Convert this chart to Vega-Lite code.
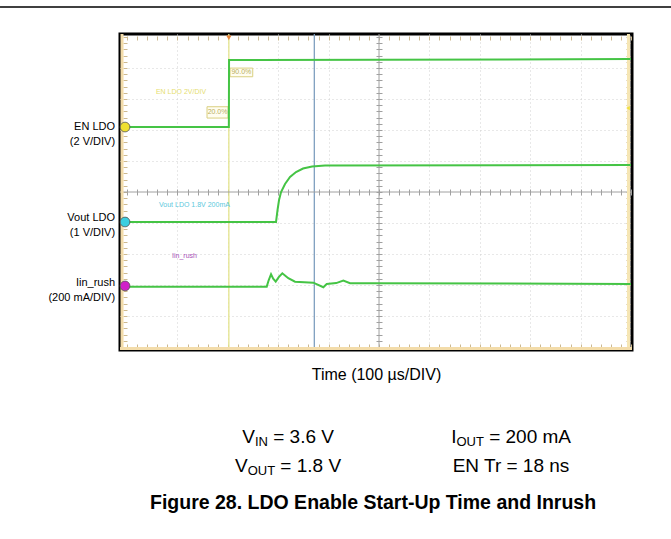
{
"$schema":"https://vega.github.io/schema/vega-lite/v6.json",
"width":512,"height":316,
"autosize":{"type":"none"},
"padding":{"left":120,"top":34,"right":39,"bottom":189},
"background":"white",
"config":{"font":"Liberation Sans","view":{"stroke":"black","strokeWidth":3}},
"datasets":{
"traces":[
{"series":"EN","i":0,"t":-10,"d":7.097},{"series":"EN","i":1,"t":202,"d":7.097},{"series":"EN","i":2,"t":202.4,"d":9.258},{"series":"EN","i":3,"t":500,"d":9.27},{"series":"EN","i":4,"t":1000,"d":9.29},
{"series":"Vout","i":0,"t":-10,"d":4.032},{"series":"Vout","i":1,"t":295.6,"d":4.032},{"series":"Vout","i":2,"t":298.6,"d":4.419},{"series":"Vout","i":3,"t":301.6,"d":4.742},{"series":"Vout","i":4,"t":305.6,"d":5.0},{"series":"Vout","i":5,"t":313.5,"d":5.258},{"series":"Vout","i":6,"t":323.4,"d":5.484},{"series":"Vout","i":7,"t":335.3,"d":5.645},{"series":"Vout","i":8,"t":349.2,"d":5.758},{"series":"Vout","i":9,"t":367.1,"d":5.823},{"series":"Vout","i":10,"t":392.9,"d":5.855},{"series":"Vout","i":11,"t":1000,"d":5.871},
{"series":"Iin","i":0,"t":-10,"d":1.945},{"series":"Iin","i":1,"t":277.2,"d":1.945},{"series":"Iin","i":2,"t":281,"d":2.15},{"series":"Iin","i":3,"t":285.7,"d":2.345},{"series":"Iin","i":4,"t":290,"d":2.2},{"series":"Iin","i":5,"t":295,"d":2.106},{"series":"Iin","i":6,"t":301,"d":2.25},{"series":"Iin","i":7,"t":308.1,"d":2.377},{"series":"Iin","i":8,"t":314,"d":2.3},{"series":"Iin","i":9,"t":320,"d":2.216},{"series":"Iin","i":10,"t":333.3,"d":2.106},{"series":"Iin","i":11,"t":369.6,"d":2.074},{"series":"Iin","i":12,"t":389.5,"d":1.926},{"series":"Iin","i":13,"t":396.2,"d":2.032},{"series":"Iin","i":14,"t":415,"d":2.06},{"series":"Iin","i":15,"t":429.2,"d":2.139},{"series":"Iin","i":16,"t":442.5,"d":2.055},{"series":"Iin","i":17,"t":482.1,"d":2.055},{"series":"Iin","i":18,"t":1000,"d":2.032}
],
"cursors":[{"cursor":"trigger","t":202},{"cursor":"measure","t":371.6}],
"channels":[{"channel":"EN LDO","t":-4,"d":7.097},{"channel":"Vout LDO","t":-4,"d":4.032},{"channel":"Iin_rush","t":-4,"d":1.968}],
"one":[{}]
},
"resolve":{"scale":{"x":"shared","y":"shared","color":"independent"},"axis":{"x":"independent","y":"independent"}},
"layer":[
{"data":{"name":"one"},"mark":{"type":"rule","color":"black","strokeWidth":1.5},"encoding":{"x":{"datum":-252.1,"type":"quantitative","axis":null},"x2":{"datum":1079.4},"y":{"datum":10.972,"type":"quantitative","axis":null}}},
{"data":{"name":"cursors"},"mark":{"type":"rule","strokeWidth":1.3},
 "encoding":{"x":{"field":"t","type":"quantitative","scale":{"domain":[-14,1002],"nice":false,"zero":false},"axis":null},
 "color":{"field":"cursor","type":"nominal","scale":{"domain":["trigger","measure"],"range":["#e4e48c","#7f9fbf"]},"legend":null}}},
{"data":{"name":"one"},"mark":{"type":"rule","color":"#a0a0a0","strokeWidth":1},"encoding":{"x":{"datum":500,"type":"quantitative","axis":null}}},
{"data":{"name":"one"},"mark":{"type":"rule","color":"#a0a0a0","strokeWidth":1},"encoding":{"y":{"datum":5,"type":"quantitative","scale":{"domain":[-0.1,10.1],"nice":false,"zero":false},"axis":null}}},
{"data":{"name":"one"},"mark":{"type":"rule","color":"#f3dcaa","strokeWidth":3},"encoding":{"x":{"datum":-10,"type":"quantitative","axis":null}}},
{"data":{"name":"one"},"mark":{"type":"rule","color":"#f6e6b4","strokeWidth":3},"encoding":{"x":{"datum":995,"type":"quantitative","axis":null}}},
{"data":{"name":"one"},"mark":{"type":"rule","color":"#f3dcaa","strokeWidth":3},"encoding":{"y":{"datum":-0.05,"type":"quantitative","axis":null}}},
{"data":{"name":"one"},"mark":{"type":"rect","fill":"#fffdf0","stroke":"#d9cf80","strokeWidth":1},"encoding":{"x":{"datum":204.4,"type":"quantitative","axis":null},"x2":{"datum":249.4},"y":{"datum":9.0,"type":"quantitative","axis":null},"y2":{"datum":8.72}}},
{"data":{"name":"one"},"mark":{"type":"rect","fill":"#fffdf0","stroke":"#d9cf80","strokeWidth":1},"encoding":{"x":{"datum":158.7,"type":"quantitative","axis":null},"x2":{"datum":200.4},"y":{"datum":7.752,"type":"quantitative","axis":null},"y2":{"datum":7.387}}},
{"data":{"name":"one"},"mark":{"type":"text","text":"90.0%","fontSize":7,"color":"#b8ae60","align":"center","baseline":"middle"},"encoding":{"x":{"datum":226.9,"type":"quantitative","axis":null},"y":{"datum":8.86,"type":"quantitative","axis":null}}},
{"data":{"name":"one"},"mark":{"type":"text","text":"20.0%","fontSize":7,"color":"#b8ae60","align":"center","baseline":"middle"},"encoding":{"x":{"datum":179.6,"type":"quantitative","axis":null},"y":{"datum":7.57,"type":"quantitative","axis":null}}},
{"data":{"name":"one"},"mark":{"type":"text","text":"EN LDO 2V/DIV","fontSize":7,"color":"#e6de70","align":"center","baseline":"middle"},"encoding":{"x":{"datum":107.1,"type":"quantitative","axis":null},"y":{"datum":8.226,"type":"quantitative","axis":null}}},
{"data":{"name":"one"},"mark":{"type":"text","text":"Vout LDO 1.8V 200mA","fontSize":7,"color":"#5cc8dc","align":"left","baseline":"middle"},"encoding":{"x":{"datum":63.5,"type":"quantitative","axis":null},"y":{"datum":4.581,"type":"quantitative","axis":null}}},
{"data":{"name":"one"},"mark":{"type":"text","text":"Iin_rush","fontSize":7,"color":"#a850b8","align":"left","baseline":"middle"},"encoding":{"x":{"datum":89.3,"type":"quantitative","axis":null},"y":{"datum":2.935,"type":"quantitative","axis":null}}},
{"data":{"name":"traces"},"transform":[{"filter":"datum.series === 'EN'"}],"mark":{"type":"line","color":"#45c445","strokeWidth":2,"clip":true},
 "encoding":{"x":{"field":"t","type":"quantitative","scale":{"domain":[-14,1002],"nice":false,"zero":false},
   "axis":{"orient":"bottom","values":[100,200,300,400,600,700,800,900],"grid":true,"gridColor":"#d0d0d0","gridDash":[1,3],"ticks":false,"labels":false,"domain":false,"title":"Time (100 µs/DIV)","titleFont":"Liberation Sans","titleFontSize":16,"titleFontWeight":"normal","titleColor":"black","titlePadding":16}},
  "y":{"field":"d","type":"quantitative","scale":{"domain":[-0.1,10.1],"nice":false,"zero":false},
   "axis":{"orient":"left","values":[1,2,3,4,6,7,8,9],"grid":true,"gridColor":"#d0d0d0","gridDash":[1,3],"ticks":false,"labels":false,"domain":false,"title":null}},
  "order":{"field":"i","type":"quantitative"}}},
{"data":{"name":"traces"},"transform":[{"filter":"datum.series === 'Vout'"}],"mark":{"type":"line","color":"#45c445","strokeWidth":2,"clip":true},
 "encoding":{"x":{"field":"t","type":"quantitative","scale":{"domain":[-14,1002],"nice":false,"zero":false},
   "axis":{"orient":"top","offset":-6,"values":[0,20,40,60,80,100,120,140,160,180,200,220,240,260,280,300,320,340,360,380,400,420,440,460,480,500,520,540,560,580,600,620,640,660,680,700,720,740,760,780,800,820,840,860,880,900,920,940,960,980,1000],"grid":false,"ticks":true,"tickSize":4,"tickColor":"#cdb98f","labels":false,"domain":false,"title":null}},
  "y":{"field":"d","type":"quantitative","scale":{"domain":[-0.1,10.1],"nice":false,"zero":false},
   "axis":{"orient":"right","offset":-6,"values":[0,0.2,0.4,0.6,0.8,1,1.2,1.4,1.6,1.8,2,2.2,2.4,2.6,2.8,3,3.2,3.4,3.6,3.8,4,4.2,4.4,4.6,4.8,5,5.2,5.4,5.6,5.8,6,6.2,6.4,6.6,6.8,7,7.2,7.4,7.6,7.8,8,8.2,8.4,8.6,8.8,9,9.2,9.4,9.6,9.8,10],"grid":false,"ticks":true,"tickSize":4,"tickColor":"#cdb98f","labels":false,"domain":false,"title":null}},
  "order":{"field":"i","type":"quantitative"}}},
{"data":{"name":"traces"},"transform":[{"filter":"datum.series === 'Iin'"}],"mark":{"type":"line","color":"#45c445","strokeWidth":2,"clip":true},
 "encoding":{"x":{"field":"t","type":"quantitative","scale":{"domain":[-14,1002],"nice":false,"zero":false},
   "axis":{"orient":"bottom","offset":-6,"values":[0,20,40,60,80,100,120,140,160,180,200,220,240,260,280,300,320,340,360,380,400,420,440,460,480,500,520,540,560,580,600,620,640,660,680,700,720,740,760,780,800,820,840,860,880,900,920,940,960,980,1000],"grid":false,"ticks":true,"tickSize":4,"tickColor":"#cdb98f","labels":false,"domain":false,"title":null}},
  "y":{"field":"d","type":"quantitative","scale":{"domain":[-0.1,10.1],"nice":false,"zero":false},
   "axis":{"orient":"left","offset":-7,"values":[0,0.2,0.4,0.6,0.8,1,1.2,1.4,1.6,1.8,2,2.2,2.4,2.6,2.8,3,3.2,3.4,3.6,3.8,4,4.2,4.4,4.6,4.8,5,5.2,5.4,5.6,5.8,6,6.2,6.4,6.6,6.8,7,7.2,7.4,7.6,7.8,8,8.2,8.4,8.6,8.8,9,9.2,9.4,9.6,9.8,10],"grid":false,"ticks":true,"tickSize":4,"tickColor":"#cdb98f","labels":false,"domain":false,"title":null}},
  "order":{"field":"i","type":"quantitative"}}},
{"data":{"name":"channels"},"mark":{"type":"point","shape":"circle","filled":true,"size":95,"opacity":1,"stroke":"#555555","strokeWidth":0.8},
 "encoding":{"x":{"field":"t","type":"quantitative","scale":{"domain":[-14,1002],"nice":false,"zero":false},
   "axis":{"orient":"bottom","offset":-161,"values":[0,20,40,60,80,100,120,140,160,180,200,220,240,260,280,300,320,340,360,380,400,420,440,460,480,500,520,540,560,580,600,620,640,660,680,700,720,740,760,780,800,820,840,860,880,900,920,940,960,980,1000],"grid":false,"ticks":true,"tickSize":6,"tickColor":"#a0a0a0","labels":false,"domain":false,"title":null}},
  "y":{"field":"d","type":"quantitative","scale":{"domain":[-0.1,10.1],"nice":false,"zero":false},
   "axis":{"orient":"left","offset":-262,"values":[0,0.2,0.4,0.6,0.8,1,1.2,1.4,1.6,1.8,2,2.2,2.4,2.6,2.8,3,3.2,3.4,3.6,3.8,4,4.2,4.4,4.6,4.8,5,5.2,5.4,5.6,5.8,6,6.2,6.4,6.6,6.8,7,7.2,7.4,7.6,7.8,8,8.2,8.4,8.6,8.8,9,9.2,9.4,9.6,9.8,10],"grid":false,"ticks":true,"tickSize":6,"tickColor":"#a0a0a0","labels":false,"domain":false,"title":null}},
  "color":{"field":"channel","type":"nominal","scale":{"domain":["EN LDO","Vout LDO","Iin_rush"],"range":["#f0e030","#3ccfe0","#d020c8"]},"legend":null}}},
{"data":{"name":"one"},"mark":{"type":"point","shape":"triangle-down","filled":true,"size":28,"color":"#e8843a","opacity":1},"encoding":{"x":{"datum":202,"type":"quantitative","axis":null},"y":{"datum":9.98,"type":"quantitative","axis":null}}},
{"data":{"name":"one"},"mark":{"type":"point","shape":"triangle-left","filled":true,"size":18,"color":"#f0e040","opacity":1},"encoding":{"x":{"datum":994,"type":"quantitative","axis":null},"y":{"datum":7.71,"type":"quantitative","axis":null}}},
{"data":{"name":"one"},"mark":{"type":"text","text":["EN LDO","(2 V/DIV)"],"fontSize":11,"lineHeight":15,"align":"right","baseline":"middle","color":"black"},"encoding":{"x":{"datum":-23.8,"type":"quantitative","axis":null},"y":{"datum":7.113,"type":"quantitative","axis":null}}},
{"data":{"name":"one"},"mark":{"type":"text","text":["Vout LDO","(1 V/DIV)"],"fontSize":11,"lineHeight":15,"align":"right","baseline":"middle","color":"black"},"encoding":{"x":{"datum":-23.8,"type":"quantitative","axis":null},"y":{"datum":4.145,"type":"quantitative","axis":null}}},
{"data":{"name":"one"},"mark":{"type":"text","text":["Iin_rush","(200 mA/DIV)"],"fontSize":11,"lineHeight":15,"align":"right","baseline":"middle","color":"black"},"encoding":{"x":{"datum":-23.8,"type":"quantitative","axis":null},"y":{"datum":2.048,"type":"quantitative","axis":null}}},
{"data":{"name":"one"},"mark":{"type":"text","text":"V","fontSize":19,"align":"left","baseline":"middle","color":"black"},"encoding":{"x":{"datum":228.6,"type":"quantitative","axis":null},"y":{"datum":-2.903,"type":"quantitative","axis":null}}},
{"data":{"name":"one"},"mark":{"type":"text","text":"IN","fontSize":13,"align":"left","baseline":"middle","dy":5,"color":"black"},"encoding":{"x":{"datum":253.8,"type":"quantitative","axis":null},"y":{"datum":-2.903,"type":"quantitative","axis":null}}},
{"data":{"name":"one"},"mark":{"type":"text","text":"= 3.6 V","fontSize":19,"align":"left","baseline":"middle","color":"black"},"encoding":{"x":{"datum":290.1,"type":"quantitative","axis":null},"y":{"datum":-2.903,"type":"quantitative","axis":null}}},
{"data":{"name":"one"},"mark":{"type":"text","text":"V","fontSize":19,"align":"left","baseline":"middle","color":"black"},"encoding":{"x":{"datum":214.1,"type":"quantitative","axis":null},"y":{"datum":-3.839,"type":"quantitative","axis":null}}},
{"data":{"name":"one"},"mark":{"type":"text","text":"OUT","fontSize":13,"align":"left","baseline":"middle","dy":5,"color":"black"},"encoding":{"x":{"datum":239.3,"type":"quantitative","axis":null},"y":{"datum":-3.839,"type":"quantitative","axis":null}}},
{"data":{"name":"one"},"mark":{"type":"text","text":"= 1.8 V","fontSize":19,"align":"left","baseline":"middle","color":"black"},"encoding":{"x":{"datum":304.2,"type":"quantitative","axis":null},"y":{"datum":-3.839,"type":"quantitative","axis":null}}},
{"data":{"name":"one"},"mark":{"type":"text","text":"I","fontSize":19,"align":"left","baseline":"middle","color":"black"},"encoding":{"x":{"datum":643.1,"type":"quantitative","axis":null},"y":{"datum":-2.903,"type":"quantitative","axis":null}}},
{"data":{"name":"one"},"mark":{"type":"text","text":"OUT","fontSize":13,"align":"left","baseline":"middle","dy":5,"color":"black"},"encoding":{"x":{"datum":653.6,"type":"quantitative","axis":null},"y":{"datum":-2.903,"type":"quantitative","axis":null}}},
{"data":{"name":"one"},"mark":{"type":"text","text":"= 200 mA","fontSize":19,"align":"left","baseline":"middle","color":"black"},"encoding":{"x":{"datum":718.5,"type":"quantitative","axis":null},"y":{"datum":-2.903,"type":"quantitative","axis":null}}},
{"data":{"name":"one"},"mark":{"type":"text","text":"EN Tr = 18 ns","fontSize":19,"align":"center","baseline":"middle","color":"black"},"encoding":{"x":{"datum":761.9,"type":"quantitative","axis":null},"y":{"datum":-3.839,"type":"quantitative","axis":null}}},
{"data":{"name":"one"},"mark":{"type":"text","text":"Figure 28. LDO Enable Start-Up Time and Inrush","fontSize":19.5,"fontWeight":"bold","align":"center","baseline":"middle","color":"black"},"encoding":{"x":{"datum":488.1,"type":"quantitative","axis":null},"y":{"datum":-5.04,"type":"quantitative","axis":null}}}
]
}
